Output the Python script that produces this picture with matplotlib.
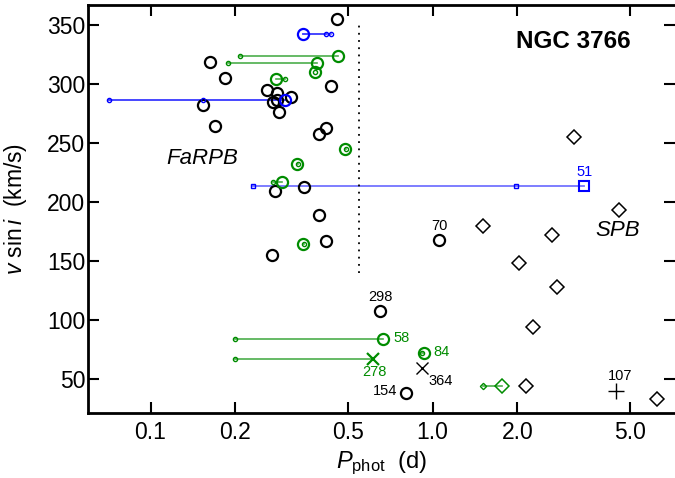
import matplotlib
matplotlib.use("Agg")
import matplotlib.pyplot as plt
from matplotlib.ticker import FixedLocator, FixedFormatter, NullLocator

plt.rcParams['font.family'] = ['Liberation Sans', 'DejaVu Sans']
plt.rcParams['mathtext.fontset'] = 'custom'
plt.rcParams['mathtext.rm'] = 'Liberation Sans'
plt.rcParams['mathtext.it'] = 'Liberation Sans:italic'

BLUE = '#0000ff'
GREEN = '#008c00'

# single-period stars (black open circles)
p_single = [0.457, 0.1625, 0.184, 0.436, 0.258, 0.280, 0.315, 0.280, 0.271, 0.154,
            0.286, 0.1696, 0.419, 0.395, 0.276, 0.349, 0.397, 0.419, 0.269,
            1.056, 0.651, 0.805]
v_single = [355.1, 318.9, 305.4, 298.1, 295.0, 292.2, 289.3, 286.5, 285.1, 282.3,
            276.1, 264.5, 262.8, 257.5, 209.4, 213.1, 188.9, 167.1, 155.3,
            168.0, 107.8, 38.7]

# SPB candidates (diamonds)
p_spb = [3.18, 4.59, 1.509, 2.65, 2.02, 2.754, 2.264, 2.144, 6.23]
v_spb = [255.4, 193.4, 180.1, 171.9, 148.7, 128.4, 94.0, 44.6, 33.3]

# green: stars with a second period (big = main, small = other)
p_green = [0.462, 0.388, 0.384, 0.278, 0.489, 0.330, 0.292, 0.348, 0.669, 0.932]
p_green_alt = [0.2075, 0.1886, 0.384, 0.3005, 0.494, 0.332, 0.271, 0.351, 0.199, 0.915]
v_green = [324.0, 318.1, 310.5, 304.5, 244.7, 232.0, 216.8, 164.3, 84.1, 72.0]

# green cross (#278) and green diamond
p_g278, p_g278_alt, v_g278 = 0.616, 0.199, 67.0
p_gdia, p_gdia_alt, v_gdia = 1.767, 1.513, 44.3

# black cross (#364) and plus (#107)
p_x364, v_x364 = 0.919, 59.8
p_p107, v_p107 = 4.48, 40.1

# blue: stars with several periods
p_blue = [0.348, 0.2997]
p_blue_alt = [[0.418, 0.4375], [0.0712, 0.153]]
v_blue = [342.4, 286.5]

# blue square (#51)
p_sq, v_sq = 3.45, 213.9
p_sq_alt = [1.976, 0.2308]

# star numbers
lab_text = ['70', '298', '154', '58', '278', '84', '364', '107', '51']
lab_p = [1.056, 0.651, 0.805, 0.669, 0.616, 0.932, 0.919, 4.48, 3.45]
lab_v = [168.0, 107.8, 38.7, 84.1, 67.0, 72.0, 59.8, 40.1, 213.9]
lab_off = [(0, 10), (0, 10), (-6.5, 1), (7, 0.5), (0.7, -9.5), (6.5, 0.7), (4.5, -9.4), (3, 11), (0, 10)]
lab_ha = ['center', 'center', 'right', 'left', 'center', 'left', 'left', 'center', 'center']
lab_col = ['black', 'black', 'black', GREEN, GREEN, GREEN, 'black', 'black', BLUE]

x_ticks = [0.1, 0.2, 0.5, 1.0, 2.0, 5.0]
x_ticklabels = ['0.1', '0.2', '0.5', '1.0', '2.0', '5.0']
y_ticks = [50, 100, 150, 200, 250, 300, 350]

fig = plt.figure(figsize=(6.75, 4.78), dpi=100)
ax = fig.add_axes([88 / 675, 65 / 478, 587 / 675, 408 / 478])
ax.set_xscale('log')

# connecting lines
for p, pa, v in zip(p_green, p_green_alt, v_green):
    ax.plot([pa, p], [v, v], color=GREEN, lw=1.2, alpha=0.7, zorder=1)
ax.plot([p_g278_alt, p_g278], [v_g278, v_g278], color=GREEN, lw=1.2, alpha=0.7, zorder=1)
ax.plot([p_gdia_alt, p_gdia], [v_gdia, v_gdia], color=GREEN, lw=1.2, alpha=0.7, zorder=1)
for p, alts, v in zip(p_blue, p_blue_alt, v_blue):
    for pa in alts:
        ax.plot([pa, p], [v, v], color=BLUE, lw=1.3, alpha=0.5, zorder=1)
ax.plot([p_blue_alt[1][0], p_blue_alt[1][1]], [v_blue[1]] * 2, color=BLUE, lw=1.3, alpha=0.5, zorder=1)
ax.plot([min(p_sq_alt), p_sq], [v_sq, v_sq], color=BLUE, lw=1.3, alpha=0.55, zorder=1)

# dotted separator
ax.plot([0.55, 0.55], [140, 353], color='black', lw=1.3, ls=(0, (1, 3)), zorder=1)

# markers
ax.plot(p_single, v_single, 'o', ms=8, mfc='none', mec='black', mew=1.6, zorder=3)
ax.plot(p_spb, v_spb, 'D', ms=7.6, mfc='none', mec='black', mew=1.1, zorder=3)
ax.plot(p_green, v_green, 'o', ms=8, mfc='none', mec=GREEN, mew=1.6, zorder=4)
ax.plot(p_green_alt, v_green, 'o', ms=3, mfc='none', mec=GREEN, mew=1.0, zorder=4)
ax.plot(p_g278, v_g278, 'x', ms=8.5, mec=GREEN, mew=1.6, zorder=4)
ax.plot(p_g278_alt, v_g278, 'o', ms=3, mfc='none', mec=GREEN, mew=1.0, zorder=4)
ax.plot(p_gdia, v_gdia, 'D', ms=7.6, mfc='none', mec=GREEN, mew=1.1, zorder=4)
ax.plot(p_gdia_alt, v_gdia, 'D', ms=3.2, mfc='none', mec=GREEN, mew=1.0, zorder=4)
ax.plot(p_x364, v_x364, 'x', ms=9, mec='black', mew=1.0, zorder=4)
ax.plot(p_p107, v_p107, '+', ms=11.5, mec='black', mew=1.0, zorder=4)
ax.plot(p_blue, v_blue, 'o', ms=8, mfc='none', mec=BLUE, mew=1.6, zorder=5)
for alts, v in zip(p_blue_alt, v_blue):
    ax.plot(alts, [v] * len(alts), 'o', ms=3, mfc='none', mec=BLUE, mew=1.0, zorder=5)
ax.plot(p_sq, v_sq, 's', ms=7.5, mfc='none', mec=BLUE, mew=1.5, zorder=5)
ax.plot(p_sq_alt, [v_sq] * len(p_sq_alt), 's', ms=3.5, mfc='none', mec=BLUE, mew=1.0, zorder=5)

for t, p, v, off, ha, c in zip(lab_text, lab_p, lab_v, lab_off, lab_ha, lab_col):
    ax.annotate(t, (p, v), xytext=off, textcoords='offset points',
                ha=ha, va='center', fontsize=10.5, color=c)

ax.text(0.152, 236.8, 'FaRPB', fontsize=16, style='italic', ha='center', va='center')
ax.text(4.54, 176.4, 'SPB', fontsize=16, style='italic', ha='center', va='center')
ax.text(0.826, 0.91, 'NGC 3766', transform=ax.transAxes, fontsize=17.5,
        fontweight='bold', ha='center', va='center')

ax.set_xlim(0.06, 7.24)
ax.set_ylim(21.5, 366.9)
ax.xaxis.set_major_locator(FixedLocator(x_ticks))
ax.xaxis.set_major_formatter(FixedFormatter(x_ticklabels))
ax.xaxis.set_minor_locator(NullLocator())
ax.set_yticks(y_ticks)

ax.tick_params(direction='in', length=8, width=1.5, top=True, right=True,
               labelsize=16.5)
ax.tick_params(axis='y', pad=2)
ax.tick_params(axis='x', pad=6)
for s in ax.spines.values():
    s.set_linewidth(2)
ax.spines['right'].set_visible(False)

ax.set_xlabel(r'$P_{\rm phot}$  (d)', fontsize=17, labelpad=4)
ax.set_ylabel(r'$v$ sin$\,i$  (km/s)', fontsize=16.5)
ax.yaxis.set_label_coords(-0.100, 0.5)

fig.savefig('out.png', dpi=100)
